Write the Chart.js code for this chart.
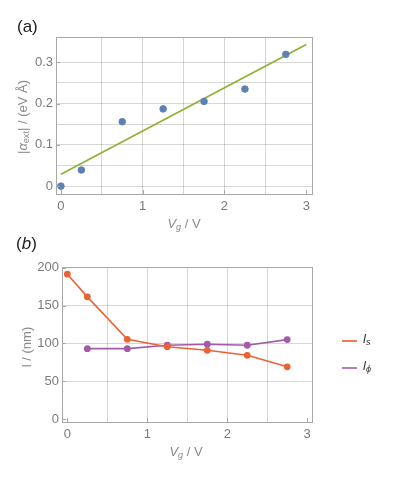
<!DOCTYPE html>
<html><head><meta charset="utf-8">
<script src="https://cdn.jsdelivr.net/npm/chart.js@4/dist/chart.umd.min.js"></script>
<style>
html,body{margin:0;padding:0;background:#fff;}
body{width:395px;height:484px;position:relative;overflow:hidden;font-family:"Liberation Sans",Arial,sans-serif;}
.cv{position:absolute;left:0;}
.lbl{position:absolute;white-space:nowrap;}
.rot{transform:translate(-50%,-50%) rotate(-90deg);}
.ctr{transform:translate(-50%,-50%);}
.ax{color:#8a8a8a;font-size:13px;}
sub{font-size:70%;vertical-align:-0.25em;}
</style>
</head><body>
<div class="cv" style="top:0;width:395px;height:240px"><canvas id="c1" width="395" height="240"></canvas></div>
<div class="cv" style="top:240px;width:395px;height:244px"><canvas id="c2" width="395" height="244"></canvas></div>

<div class="lbl" style="left:17px;top:17px;font-size:17px;color:#222">(a)</div>
<div class="lbl" style="left:16px;top:234px;font-size:17px;color:#222">(<i>b</i>)</div>
<div class="lbl ax rot" style="left:23px;top:117px">|<i>α</i><sub>ext</sub>| / (eV Å)</div>
<div class="lbl ax ctr" style="left:184px;top:224px"><i>V</i><sub><i>g</i></sub> / V</div>
<div class="lbl ax rot" style="left:26px;top:347px">l / (nm)</div>
<div class="lbl ax ctr" style="left:186px;top:452px"><i>V</i><sub><i>g</i></sub> / V</div>

<div class="lbl" style="left:342px;top:340px;width:15px;height:2px;background:#EE7D55"></div>
<div class="lbl" style="left:363px;top:331px;font-size:13px;color:#333"><i>l</i><sub><i>s</i></sub></div>
<div class="lbl" style="left:342px;top:367px;width:15px;height:2px;background:#B57DBB"></div>
<div class="lbl" style="left:363px;top:358px;font-size:13px;color:#333"><i>l</i><sub><i>ϕ</i></sub></div>

<script>
// ---- data ----
const vg = [0, 0.25, 0.75, 1.25, 1.75, 2.25, 2.75];
const alphaExt = [0.0, 0.039, 0.156, 0.187, 0.205, 0.235, 0.319];
const fitX = [0, 3];
const fitY = [0.029, 0.343];

const vgS = [0, 0.25, 0.75, 1.25, 1.75, 2.25, 2.75];
const lS = [191.5, 161.5, 105.3, 95.6, 90.8, 84.2, 69.0];
const vgPhi = [0.25, 0.75, 1.25, 1.75, 2.25, 2.75];
const lPhi = [93.0, 93.0, 97.5, 98.8, 97.5, 105.0];

// ticks / grids
const xLabelTicks = [0, 1, 2, 3];
const xGridTicks = [0.5, 1, 1.5, 2, 2.5];
const yLabelTicksA = [0, 0.1, 0.2, 0.3];
const yGridTicksA = [0, 0.05, 0.1, 0.15, 0.2, 0.25, 0.3];
const yLabelTicksB = [0, 50, 100, 150, 200];
const yGridTicksB = [50, 100, 150];

const GRID = 'rgba(0,0,0,0.16)';
const FRAME = '#a8a8a8';
const TICKFONT = {family: '"Liberation Sans", Arial, sans-serif', size: 13};
const TICKCOL = '#7a7a7a';

function near(arr, v){ return arr.some(a => Math.abs(a - v) < 1e-6); }
function union(a, b){ const s = a.slice(); b.forEach(v => { if(!near(s, v)) s.push(v); }); return s.sort((p,q)=>p-q); }

const framePlugin = {
  id: 'frame',
  afterDraw(chart, args, opts) {
    const {ctx, chartArea: a, scales} = chart;
    ctx.save();
    ctx.strokeStyle = FRAME; ctx.lineWidth = 1;
    ctx.strokeRect(Math.round(a.left)+0.5, Math.round(a.top)+0.5, Math.round(a.right-a.left), Math.round(a.bottom-a.top));
    // small inward tick marks at labelled positions
    ctx.beginPath();
    opts.xl.forEach(v => { const px = Math.round(scales.x.getPixelForValue(v))+0.5; ctx.moveTo(px, a.bottom); ctx.lineTo(px, a.bottom-4); });
    opts.yl.forEach(v => { const py = Math.round(scales.y.getPixelForValue(v))+0.5; if (py > a.top && py < a.bottom) { ctx.moveTo(a.left, py); ctx.lineTo(a.left+4, py);} });
    ctx.stroke();
    ctx.restore();
  }
};

function xScale(min, max, h) {
  return {
    type: 'linear', min, max,
    afterBuildTicks: s => { s.ticks = union(xLabelTicks, xGridTicks).map(v => ({value: v})); },
    afterFit: s => { s.height = h; },
    border: {display: false},
    grid: {drawTicks: false, color: c => near(xGridTicks, c.tick.value) ? GRID : 'rgba(0,0,0,0)'},
    ticks: {padding: 5, font: TICKFONT, color: TICKCOL, maxRotation: 0, autoSkip: false,
      callback: v => near(xLabelTicks, v) ? String(v) : ''}
  };
}
function yScale(min, max, w, labels, grids) {
  return {
    type: 'linear', min, max,
    afterBuildTicks: s => { s.ticks = union(labels, grids).filter(v => v >= min && v <= max).map(v => ({value: v})); },
    afterFit: s => { s.width = w; },
    border: {display: false},
    grid: {drawTicks: false, color: c => near(grids, c.tick.value) ? GRID : 'rgba(0,0,0,0)'},
    ticks: {padding: 3, font: TICKFONT, color: TICKCOL, autoSkip: false,
      callback: v => near(labels, v) ? String(Math.round(v*10)/10) : ''}
  };
}

new Chart(document.getElementById('c1'), {
  type: 'scatter',
  data: {datasets: [
    {data: fitX.map((x,i)=>({x, y: fitY[i]})), showLine: true, borderColor: '#8FB032', borderWidth: 1.6, pointRadius: 0, order: 2},
    {data: vg.map((x,i)=>({x, y: alphaExt[i]})), backgroundColor: '#5E81B5', borderColor: '#5E81B5', pointRadius: 3.3, order: 1}
  ]},
  options: {
    responsive: false, animation: false,
    layout: {padding: {left: 0, top: 37, right: 83, bottom: 0}},
    plugins: {legend: {display: false}, tooltip: {enabled: false}, frame: {xl: xLabelTicks, yl: yLabelTicksA}},
    scales: {x: xScale(-0.06, 3.07, 46), y: yScale(-0.019, 0.361, 56, yLabelTicksA, yGridTicksA)}
  },
  plugins: [framePlugin]
});

new Chart(document.getElementById('c2'), {
  type: 'scatter',
  data: {datasets: [
    {label: 'ls', data: vgS.map((x,i)=>({x, y: lS[i]})), showLine: true, borderColor: '#EB6235', backgroundColor: '#EB6235', borderWidth: 1.6, pointRadius: 2.6},
    {label: 'lphi', data: vgPhi.map((x,i)=>({x, y: lPhi[i]})), showLine: true, borderColor: '#A35AA8', backgroundColor: '#A35AA8', borderWidth: 1.6, pointRadius: 2.6}
  ]},
  options: {
    responsive: false, animation: false,
    layout: {padding: {left: 0, top: 27, right: 83, bottom: 0}},
    plugins: {legend: {display: false}, tooltip: {enabled: false}, frame: {xl: xLabelTicks, yl: yLabelTicksB}},
    scales: {x: xScale(-0.067, 3.06, 62), y: yScale(-4, 201, 62, yLabelTicksB, yGridTicksB)}
  },
  plugins: [framePlugin]
});
</script>
</body></html>
